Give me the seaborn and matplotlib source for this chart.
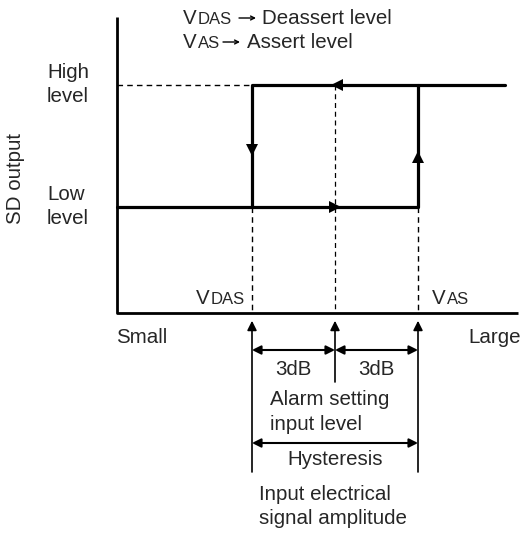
import matplotlib
matplotlib.use("Agg")
import matplotlib.pyplot as plt
import seaborn as sns
import pandas as pd

sns.set_theme(style="white")
plt.rcParams['font.family'] = ['Liberation Sans', 'DejaVu Sans']

# ---- diagram data (input amplitude positions, output levels) ----
x_origin, x_end = 117, 518
y_bottom, y_top = 313, 17
input_names = ["VDAS", "Alarm", "VAS"]
input_levels = [252, 335, 418]
output_names = ["High", "Low"]
output_levels = [85, 207]
high_end = 505
gap_labels = ["3dB", "3dB"]

v_das, v_alarm, v_as = input_levels
y_high, y_low = output_levels

fig = plt.figure(figsize=(5.25, 5.35), dpi=100)
ax = fig.add_axes([0, 0, 1, 1])

# hysteresis loop via seaborn
low_path = pd.DataFrame({"x": [x_origin, v_as, v_as], "y": [y_low, y_low, y_high]})
high_path = pd.DataFrame({"x": [high_end, v_das, v_das], "y": [y_high, y_high, y_low]})
sns.lineplot(data=low_path, x="x", y="y", sort=False, color="black", lw=2.3, ax=ax, estimator=None)
sns.lineplot(data=high_path, x="x", y="y", sort=False, color="black", lw=2.3, ax=ax, estimator=None)
ax.set_xlim(0, 525)
ax.set_ylim(535, 0)
ax.axis("off")

# axes lines
ax.plot([x_origin, x_origin, x_end], [y_top, y_bottom, y_bottom], color="black", lw=2.0, solid_capstyle="butt")

# dashed guides
ax.plot([x_origin, v_das], [y_high, y_high], color="black", lw=1.0, ls=(0, (4, 3)))
ax.plot([v_das, v_das], [y_low, y_bottom], color="black", lw=1.0, ls=(0, (4, 3)))
ax.plot([v_as, v_as], [y_low, y_bottom], color="black", lw=1.0, ls=(0, (4, 3)))
ax.plot([v_alarm, v_alarm], [y_high, y_bottom], color="black", lw=0.9, ls=(0, (4, 3)))

# direction arrows on loop
ax.plot([v_das], [150], marker="v", color="black", ms=8, mew=0)
ax.plot([v_as], [157], marker="^", color="black", ms=8, mew=0)
ax.plot([v_alarm + 2], [y_high], marker="<", color="black", ms=8, mew=0)
ax.plot([v_alarm], [y_low], marker=">", color="black", ms=8, mew=0)

fs = 14.8
small = 12

def vlabel(x, y, sub):
    ax.text(x, y, "V", fontsize=fs, ha="left", va="baseline")
    ax.text(x + 14.5, y, sub, fontsize=small, ha="left", va="baseline")

def small_arrow(x0, x1, y):
    ax.annotate("", xy=(x1, y), xytext=(x0, y),
                arrowprops=dict(arrowstyle="->", color="black", lw=1.0, mutation_scale=7,
                                shrinkA=0, shrinkB=0))

# title legend lines
vlabel(183, 24, "DAS")
small_arrow(239, 256, 18)
ax.text(262, 24, "Deassert level", fontsize=fs, ha="left", va="baseline")
vlabel(183, 48, "AS")
small_arrow(223, 240, 42)
ax.text(247, 48, "Assert level", fontsize=fs, ha="left", va="baseline")

# y labels
ax.text(47, 78, "High", fontsize=fs, ha="left", va="baseline")
ax.text(47, 102, "level", fontsize=fs, ha="left", va="baseline")
ax.text(47, 200, "Low", fontsize=fs, ha="left", va="baseline")
ax.text(47, 224, "level", fontsize=fs, ha="left", va="baseline")
ax.text(16, 178, "SD output", fontsize=fs, rotation=90, ha="center", va="center")

# V labels near axis
vlabel(196, 304, "DAS")
vlabel(432, 304, "AS")

ax.text(116, 343, "Small", fontsize=fs, ha="left", va="baseline")
ax.text(521, 343, "Large", fontsize=fs, ha="right", va="baseline")

# upward arrows below axis
for x, y_end in zip(input_levels, [472, 382, 472]):
    ax.plot([x, x], [325, y_end], color="black", lw=1.2)
    ax.annotate("", xy=(x, 318), xytext=(x, 332),
                arrowprops=dict(arrowstyle="-|>", color="black", lw=1.2, mutation_scale=14))

# 3dB dimension arrows
arr = dict(arrowstyle="<|-|>", color="black", lw=1.5, mutation_scale=13, shrinkA=0, shrinkB=0)
ax.annotate("", xy=(v_das, 350), xytext=(v_alarm, 350), arrowprops=arr)
ax.annotate("", xy=(v_alarm, 350), xytext=(v_as, 350), arrowprops=arr)
ax.text((v_das + v_alarm) / 2, 375, gap_labels[0], fontsize=fs, ha="center", va="baseline")
ax.text((v_alarm + v_as) / 2, 375, gap_labels[1], fontsize=fs, ha="center", va="baseline")

ax.text(270, 405, "Alarm setting", fontsize=fs, ha="left", va="baseline")
ax.text(270, 430, "input level", fontsize=fs, ha="left", va="baseline")

ax.annotate("", xy=(v_das, 443), xytext=(v_as, 443), arrowprops=arr)
ax.text(v_alarm, 465, "Hysteresis", fontsize=fs, ha="center", va="baseline")

ax.text(259, 500, "Input electrical", fontsize=fs, ha="left", va="baseline")
ax.text(259, 524, "signal amplitude", fontsize=fs, ha="left", va="baseline")

fig.savefig("out.png", dpi=100)
